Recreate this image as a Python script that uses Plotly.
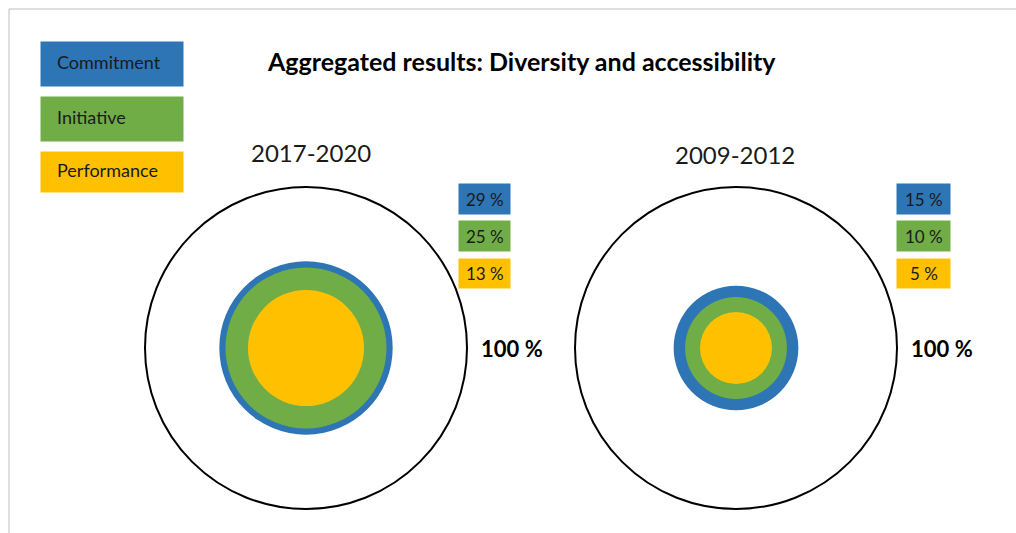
import math
import plotly.graph_objects as go

# Shares per period, as a percentage of the whole (outer circle = 100 %)
periods = ["2017-2020", "2009-2012"]
categories = ["Commitment", "Initiative", "Performance"]
commitment = [29, 15]
initiative = [25, 10]
performance = [13, 5]
total = 100

title = "Aggregated results: Diversity and accessibility"
colors = {"Commitment": "#2E75B6", "Initiative": "#70AD47", "Performance": "#FFC000"}
FONT = "Lato"

W, H = 1016, 533
centers = [(306, 348), (736, 348)]     # circle centres in page pixels
R_OUT = 161                             # radius of the 100 % circle
label_x = [(458, 511), (896, 951)]      # value-tag boxes
label_y = [(183, 215), (220, 252), (258, 289)]
total_label_x = [512, 942]
period_label = [(311, 152), (735, 154)]

shapes = []
annotations = []

# frame
shapes.append(dict(type="rect", xref="x", yref="y", x0=9, y0=9, x1=W + 20, y1=H + 20,
                   line=dict(color="#BFBFBF", width=1), fillcolor="rgba(0,0,0,0)", layer="below"))

series = {"Commitment": commitment, "Initiative": initiative, "Performance": performance}

for i, period in enumerate(periods):
    cx, cy = centers[i]
    shapes.append(dict(type="circle", xref="x", yref="y",
                       x0=cx - R_OUT, x1=cx + R_OUT, y0=cy - R_OUT, y1=cy + R_OUT,
                       fillcolor="white", line=dict(color="black", width=2)))
    # area-proportional circles, largest first
    for cat in categories:
        v = series[cat][i]
        r = R_OUT * math.sqrt(v / total)
        shapes.append(dict(type="circle", xref="x", yref="y",
                           x0=cx - r, x1=cx + r, y0=cy - r, y1=cy + r,
                           fillcolor=colors[cat], line=dict(width=0)))
    # value tags
    for k, cat in enumerate(categories):
        x0, x1 = label_x[i]
        y0, y1 = label_y[k]
        shapes.append(dict(type="rect", xref="x", yref="y", x0=x0, x1=x1, y0=y0, y1=y1,
                           fillcolor=colors[cat], line=dict(color="white", width=1)))
        annotations.append(dict(x=(x0 + x1) / 2, y=(y0 + y1) / 2, xref="x", yref="y",
                                text=f"{series[cat][i]} %", showarrow=False,
                                font=dict(family=FONT, size=17, color="#1a1a1a")))
    annotations.append(dict(x=total_label_x[i], y=cy, xref="x", yref="y",
                            text=f"<b>{total} %</b>", showarrow=False,
                            font=dict(family=FONT, size=22, color="black")))
    px, py = period_label[i]
    annotations.append(dict(x=px, y=py, xref="x", yref="y", text=period, showarrow=False,
                            font=dict(family=FONT, size=24, color="#1a1a1a")))

# legend boxes
legend_boxes = [(41, 87), (96, 142), (151, 193)]
for cat, (y0, y1) in zip(categories, legend_boxes):
    shapes.append(dict(type="rect", xref="x", yref="y", x0=40, x1=184, y0=y0, y1=y1,
                       fillcolor=colors[cat], line=dict(color="white", width=1)))
    annotations.append(dict(x=55, y=(y0 + y1) / 2 - 2, xref="x", yref="y", text=cat,
                            showarrow=False, xanchor="left",
                            font=dict(family=FONT, size=18, color="#1a1a1a")))

annotations.append(dict(x=521, y=61, xref="x", yref="y", text=f"<b>{title}</b>",
                        showarrow=False, font=dict(family=FONT, size=25, color="black")))

fig = go.Figure()
fig.update_layout(
    width=W, height=H, margin=dict(l=0, r=0, t=0, b=0),
    paper_bgcolor="white", plot_bgcolor="white",
    xaxis=dict(range=[0, W], visible=False, fixedrange=True),
    yaxis=dict(range=[H, 0], visible=False, fixedrange=True),
    shapes=shapes, annotations=annotations, showlegend=False,
)
fig.write_html("out.html")
